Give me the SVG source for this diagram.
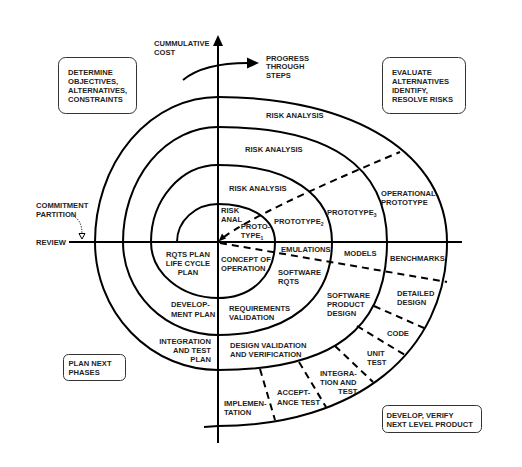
<svg xmlns="http://www.w3.org/2000/svg" width="522" height="467" viewBox="0 0 522 467">
<style>
.t{font-family:"Liberation Sans",Arial,sans-serif;font-weight:bold;font-size:7.6px;fill:#1e1e1e}
.m{text-anchor:middle}
.e{text-anchor:end}
.sub{font-size:5px}
.ln{fill:none;stroke:#000;stroke-width:2}
.dash{fill:none;stroke:#000;stroke-width:2;stroke-dasharray:7,5}
.box{fill:#fff;stroke:#333;stroke-width:1}
</style>
<rect width="522" height="467" fill="#fff"/>
<g id="connectors">
  <path class="ln" d="M218,443 L218,45"/>
  <polygon points="218,35 213,46 223,46" fill="#000"/>
  <path class="ln" d="M69,242 L462,242"/>
  <path class="ln" d="M177,242 A41,38 0 0 1 218,204 C252.2,204 275,219.2 275,242 C275,275.6 252.2,298 218,298 A67,56 0 0 1 151,242 A67,77 0 0 1 218,165 C288.7,165 332,194.3 332,242 C332,299.7 288.7,335 218,335 A95,93 0 0 1 123,242 A95,115 0 0 1 218,127 C329.5,127 387,166.1 387,242 C387,329 332.9,370 218,370 A123,128 0 0 1 95,242 A123,145 0 0 1 218,97 C355.4,97 447,155 447,242 C447,352.4 355.4,426 218,426 L204,427"/>
  <path class="dash" d="M224,237 Q258,211.5 400,152"/>
  <polygon points="218.5,241.5 226,238.5 222,233.5" fill="#000"/>
  <path class="dash" d="M220,243 L447,282"/>
  <path class="dash" d="M374,306 L424,328"/>
  <path class="dash" d="M357,326 L405,355"/>
  <path class="dash" d="M335,346 L373,382"/>
  <path class="dash" d="M299,362 L326,407"/>
  <path class="dash" d="M260,369 L275,420"/>
  <path class="ln" d="M183,80 C195,70 215,63 248,63"/>
  <polygon points="259,63 247,57.5 247,68.5" fill="#000"/>
  <path d="M73,216 Q82,220 82,234" fill="none" stroke="#000" stroke-width="1" stroke-dasharray="1.2,1.5"/>
  <polygon points="79,233.5 85,233.5 82,239" fill="#fff" stroke="#000" stroke-width="1"/>
</g>
<g id="box-determine">
  <rect class="box" x="58.5" y="57.5" width="78" height="56" rx="7"/>
  <text class="t" x="68" y="75">DETERMINE</text>
  <text class="t" x="68" y="84">OBJECTIVES,</text>
  <text class="t" x="68" y="93">ALTERNATIVES,</text>
  <text class="t" x="68" y="102">CONSTRAINTS</text>
</g>
<g id="box-evaluate">
  <rect class="box" x="382.5" y="57.5" width="83" height="56" rx="7"/>
  <text class="t" x="392" y="75">EVALUATE</text>
  <text class="t" x="392" y="84">ALTERNATIVES</text>
  <text class="t" x="392" y="93">IDENTIFY,</text>
  <text class="t" x="392" y="102">RESOLVE RISKS</text>
</g>
<g id="box-plan">
  <rect class="box" x="63.5" y="354.5" width="62" height="26" rx="5"/>
  <text class="t" x="68.5" y="365.5">PLAN NEXT</text>
  <text class="t" x="68.5" y="374.5">PHASES</text>
</g>
<g id="box-develop">
  <rect class="box" x="382.5" y="405.5" width="99" height="27" rx="5"/>
  <text class="t" x="386.5" y="417.5">DEVELOP, VERIFY</text>
  <text class="t" x="386.5" y="427">NEXT LEVEL PRODUCT</text>
</g>
<g id="labels">
  <text class="t" x="154" y="46">CUMMULATIVE</text>
  <text class="t" x="154" y="55">COST</text>
  <text class="t" x="266" y="60.5">PROGRESS</text>
  <text class="t" x="266" y="69.3">THROUGH</text>
  <text class="t" x="266" y="78">STEPS</text>
  <text class="t" x="36" y="208">COMMITMENT</text>
  <text class="t" x="36" y="216.7">PARTITION</text>
  <text class="t" x="36" y="244.5">REVIEW</text>
  <text class="t" x="266" y="117.5">RISK ANALYSIS</text>
  <text class="t" x="245" y="152.3">RISK ANALYSIS</text>
  <text class="t" x="229" y="191">RISK ANALYSIS</text>
  <text class="t" x="221" y="212.7">RISK</text>
  <text class="t" x="221" y="221.7">ANAL</text>
  <text class="t" x="240.7" y="229.3">PROTO-</text>
  <text class="t" x="240.7" y="238.3">TYPE<tspan class="sub" dy="1.5">1</tspan></text>
  <text class="t" x="274" y="224">PROTOTYPE<tspan class="sub" dy="1.5">2</tspan></text>
  <text class="t" x="327" y="215">PROTOTYPE<tspan class="sub" dy="1.5">3</tspan></text>
  <text class="t" x="381" y="195.7">OPERATIONAL</text>
  <text class="t" x="381" y="204.7">PROTOTYPE</text>
  <text class="t" x="281" y="251.7">EMULATIONS</text>
  <text class="t" x="344" y="255.7">MODELS</text>
  <text class="t" x="390" y="260.7">BENCHMARKS</text>
  <text class="t m" x="188" y="257">RQTS PLAN</text>
  <text class="t m" x="188" y="266">LIFE CYCLE</text>
  <text class="t m" x="188" y="275">PLAN</text>
  <text class="t" x="221" y="262">CONCEPT OF</text>
  <text class="t" x="221" y="271">OPERATION</text>
  <text class="t" x="278" y="275.3">SOFTWARE</text>
  <text class="t" x="278" y="284">RQTS</text>
  <text class="t" x="327" y="298">SOFTWARE</text>
  <text class="t" x="327" y="307">PRODUCT</text>
  <text class="t" x="327" y="316">DESIGN</text>
  <text class="t" x="397" y="296">DETAILED</text>
  <text class="t" x="397" y="305">DESIGN</text>
  <text class="t" x="387" y="335.7">CODE</text>
  <text class="t" x="367" y="355.7">UNIT</text>
  <text class="t" x="367" y="364.7">TEST</text>
  <text class="t" x="320" y="375.7">INTEGRA-</text>
  <text class="t" x="320" y="385">TION AND</text>
  <text class="t" x="338" y="394.3">TEST</text>
  <text class="t" x="277" y="395.3">ACCEPT-</text>
  <text class="t" x="277" y="404.7">ANCE TEST</text>
  <text class="t" x="224" y="406">IMPLEMEN-</text>
  <text class="t" x="224" y="415.3">TATION</text>
  <text class="t" x="230" y="348.3">DESIGN VALIDATION</text>
  <text class="t" x="230" y="357.3">AND VERIFICATION</text>
  <text class="t" x="229" y="310.5">REQUIREMENTS</text>
  <text class="t" x="229" y="319.5">VALIDATION</text>
  <text class="t" x="171" y="307.3">DEVELOP-</text>
  <text class="t" x="171" y="316.7">MENT PLAN</text>
  <text class="t e" x="211" y="343.7">INTEGRATION</text>
  <text class="t e" x="211" y="353">AND TEST</text>
  <text class="t e" x="211" y="362">PLAN</text>
</g>
</svg>
